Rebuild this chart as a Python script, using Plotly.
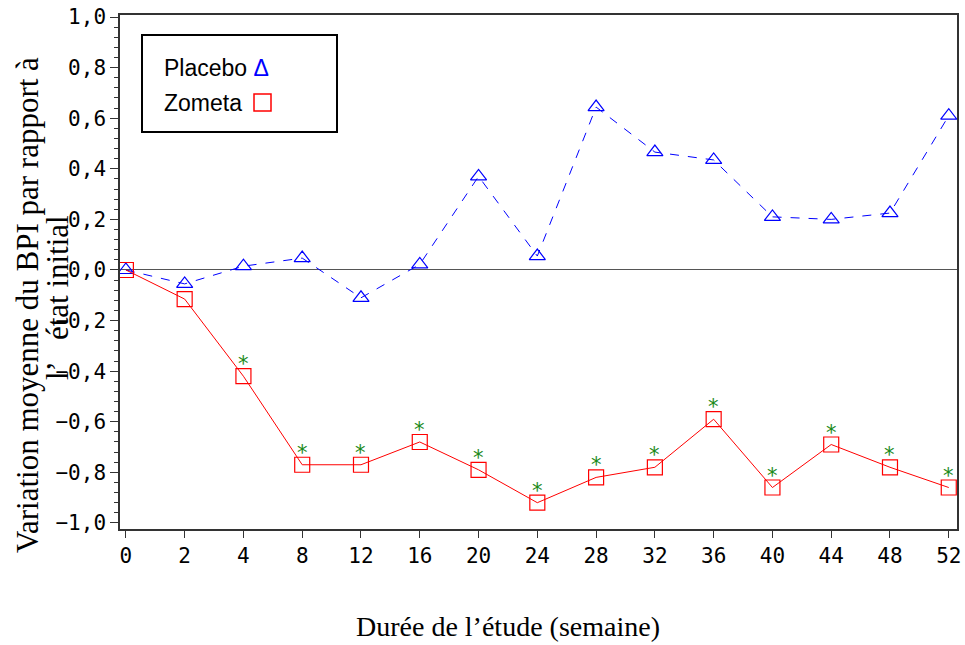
import plotly.graph_objects as go

weeks = ["0", "2", "4", "8", "12", "16", "20", "24", "28", "32", "36", "40", "44", "48", "52"]
placebo = [0.0, -0.055, 0.015, 0.047, -0.11, 0.022, 0.37, 0.055, 0.644, 0.466, 0.435, 0.21, 0.20, 0.225, 0.61]
zometa = [0.0, -0.115, -0.42, -0.77, -0.77, -0.68, -0.79, -0.92, -0.82, -0.78, -0.59, -0.86, -0.69, -0.78, -0.86]
signif = ["", "", "*", "*", "*", "*", "*", "*", "*", "*", "*", "*", "*", "*", "*"]
ytick_vals = [1.0, 0.8, 0.6, 0.4, 0.2, 0.0, -0.2, -0.4, -0.6, -0.8, -1.0]
ytick_text = ["1,0", "0,8", "0,6", "0,4", "0,2", "0,0", "\u22120,2", "\u22120,4", "\u22120,6", "\u22120,8", "\u22121,0"]

xi = list(range(len(weeks)))

fig = go.Figure()
fig.add_trace(go.Scatter(
    x=xi, y=placebo, mode="lines+markers", name="Placebo",
    line=dict(color="blue", width=1, dash="dash"),
    marker=dict(symbol="triangle-up-open", size=14, color="blue", line=dict(width=1.2)),
))
fig.add_trace(go.Scatter(
    x=xi, y=zometa, mode="lines+markers", name="Zometa",
    line=dict(color="red", width=1),
    marker=dict(symbol="square-open", size=15, color="red", line=dict(width=1.2)),
))

# significance asterisks above Zometa points
for xv, yv, s in zip(xi, zometa, signif):
    if s:
        fig.add_annotation(x=xv, y=yv, text=s, showarrow=False, yshift=12,
                           xanchor="center", yanchor="middle",
                           font=dict(color="#1a8a1a", size=21, family="DejaVu Sans"))

tickfont = dict(family="DejaVu Sans Mono", size=21, color="black")
W, H = 965, 645
L, R, T, B = 120, 8, 15, 116
PW, PH = W - L - R, H - T - B


def px(xr):
    return (xr - L) / PW


def py(yr):
    return (H - B - yr) / PH


fig.update_layout(
    width=W, height=H,
    margin=dict(l=L, r=R, t=T, b=B, pad=0, autoexpand=False),
    plot_bgcolor="white", paper_bgcolor="white",
    showlegend=False,
    xaxis=dict(
        range=[-0.1, 14.14], tickmode="array", tickvals=xi, ticktext=weeks,
        showgrid=False, zeroline=False, showline=True, linecolor="#333", linewidth=1.5,
        mirror=True, ticks="outside", ticklen=7, tickcolor="#333", tickfont=tickfont,
        ticklabeloverflow="allow", automargin=False,
    ),
    yaxis=dict(
        range=[-1.024, 1.008], tickmode="array", tickvals=ytick_vals, ticktext=ytick_text,
        showgrid=False, zeroline=True, zerolinecolor="#555", zerolinewidth=1,
        showline=True, linecolor="#333", linewidth=1.5, mirror=True,
        ticks="outside", ticklen=8, tickcolor="#333", tickfont=tickfont,
        ticklabeloverflow="allow", automargin=False,
        minor=dict(dtick=0.04, tick0=0, ticks="outside", ticklen=4, tickcolor="#333", showgrid=False),
    ),
)

# Legend box drawn manually
fig.add_shape(type="rect", xref="paper", yref="paper",
              x0=px(142), x1=px(337), y0=py(132), y1=py(35),
              line=dict(color="black", width=2), fillcolor="white")
fig.add_annotation(xref="paper", yref="paper", x=px(162), y=py(68),
                   xanchor="left", yanchor="middle", showarrow=False,
                   text="Placebo <span style='color:blue'>\u0394</span>",
                   font=dict(family="Liberation Sans", size=23, color="black"))
fig.add_annotation(xref="paper", yref="paper", x=px(162), y=py(103),
                   xanchor="left", yanchor="middle", showarrow=False,
                   text="Zometa",
                   font=dict(family="Liberation Sans", size=23, color="black"))
fig.add_shape(type="rect", xref="paper", yref="paper",
              x0=px(254), x1=px(271), y0=py(111), y1=py(94),
              line=dict(color="red", width=1.5), fillcolor="rgba(0,0,0,0)")

# Axis titles
fig.add_annotation(xref="paper", yref="paper", x=px(508), y=py(626),
                   xanchor="center", yanchor="middle", showarrow=False,
                   text="Dur\u00e9e de l\u2019\u00e9tude (semaine)",
                   font=dict(family="Liberation Serif", size=28, color="black"))
fig.add_annotation(xref="paper", yref="paper", x=px(27), y=py(305),
                   xanchor="center", yanchor="middle", showarrow=False, textangle=-90,
                   text="Variation moyenne du BPI par rapport \u00e0",
                   font=dict(family="Liberation Serif", size=31, color="black"))
fig.add_annotation(xref="paper", yref="paper", x=px(57), y=py(298),
                   xanchor="center", yanchor="middle", showarrow=False, textangle=-90,
                   text="l\u2019   \u00e9tat initial",
                   font=dict(family="Liberation Serif", size=31, color="black"))

fig.write_html(
    "out.html",
    config={"displayModeBar": False},
    post_script="document.body.style.margin='0';document.documentElement.style.overflow='hidden';",
)
